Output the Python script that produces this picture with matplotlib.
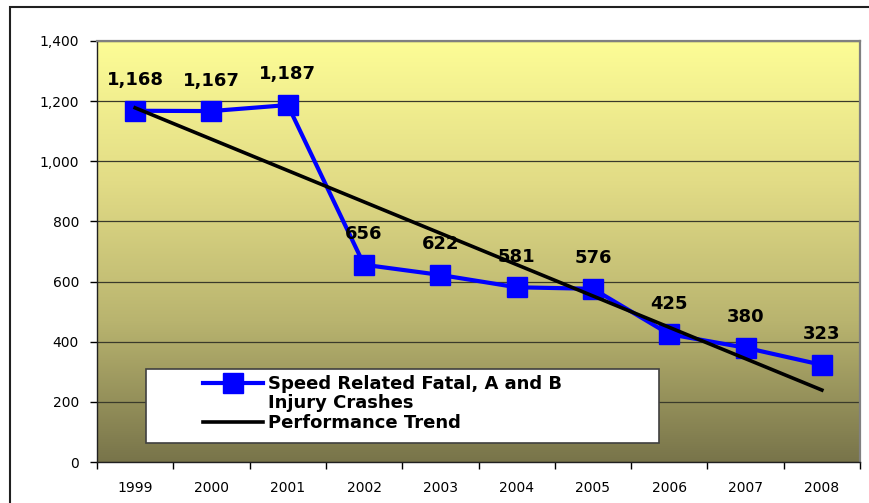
import matplotlib.pyplot as plt
from matplotlib.lines import Line2D
from matplotlib.patches import Rectangle
from matplotlib.colors import LinearSegmentedColormap
import numpy as np

plt.rcParams['font.family'] = ['DejaVu Sans']

years = ['1999', '2000', '2001', '2002', '2003', '2004', '2005', '2006', '2007', '2008']
crashes = [1168, 1167, 1187, 656, 622, 581, 576, 425, 380, 323]
series_label = 'Speed Related Fatal, A and B'
series_label2 = 'Injury Crashes'
trend_label = 'Performance Trend'

x = np.arange(len(years))
# linear trend line, like excel's
coef = np.polyfit(x, crashes, 1)
trend = np.polyval(coef, x)

fig = plt.figure(figsize=(8.69, 5.03), dpi=100)
ax = fig.add_axes([97/869, 41/503, 763/869, 421/503])

# gradient background, yellow at the top to olive at the bottom
cmap = LinearSegmentedColormap.from_list('bg', ['#78744a', '#b9b46f', '#e2dc86', '#fdfd96'])
grad = np.linspace(0, 1, 256).reshape(-1, 1)
ax.imshow(grad, aspect='auto', cmap=cmap, origin='lower', extent=(0, 1, 0, 1),
          transform=ax.transAxes, zorder=0)

ax.set_xlim(-0.5, 9.5)
ax.set_ylim(0, 1400)
ax.set_yticks(np.arange(0, 1401, 200))
ax.set_yticklabels(['{:,}'.format(v) for v in range(0, 1401, 200)])
ax.yaxis.grid(True, color='#3a3a2a', lw=0.9, zorder=1)
ax.set_axisbelow(True)

ax.set_xticks(x)
ax.set_xticklabels(years)
ax.set_xticks(np.arange(-0.5, 10, 1), minor=True)
ax.tick_params(axis='x', which='major', length=0, pad=14, labelsize=10)
ax.tick_params(axis='x', which='minor', length=5, width=1, direction='out')
ax.tick_params(axis='y', length=5, width=1, direction='out', pad=8, labelsize=10)

for s in ['top', 'right']:
    ax.spines[s].set_color('#808080')
    ax.spines[s].set_linewidth(1.6)
for s in ['left', 'bottom']:
    ax.spines[s].set_color('#202020')
    ax.spines[s].set_linewidth(1.0)

ax.plot(x, crashes, color='#0000ff', lw=3, marker='s', ms=14, zorder=3)
ax.plot(x, trend, color='black', lw=2.6, zorder=4)

for xi, v in zip(x, crashes):
    ax.annotate('{:,}'.format(v), (xi, v), xytext=(0, 22), textcoords='offset points',
                ha='center', va='center', fontsize=13, fontweight='bold', zorder=5)

# legend box
box = Rectangle((146/869, (503-443)/503), (659-146)/869, (443-369)/503,
                transform=fig.transFigure, facecolor='white', edgecolor='#404040',
                lw=1.2, zorder=6)
fig.patches.append(box)

handles = [Line2D([], [], color='#0000ff', lw=3, marker='s', ms=14),
           Line2D([], [], color='none'),
           Line2D([], [], color='black', lw=2.6)]
leg = fig.legend(handles, [series_label, series_label2, trend_label],
                 loc='upper left', bbox_to_anchor=(194/869, (503-366)/503),
                 frameon=False, handlelength=3.3, handletextpad=0.3,
                 labelspacing=0.08, borderpad=0,
                 prop={'weight': 'bold', 'size': 13})
leg.set_zorder(7)

# outer chart border
fig.patches.append(Rectangle((10/869, -0.1), 1.0, (503-7)/503 + 0.1,
                             transform=fig.transFigure, fill=False,
                             edgecolor='#202020', lw=1.5, zorder=0))

fig.savefig('out.png', dpi=100)
